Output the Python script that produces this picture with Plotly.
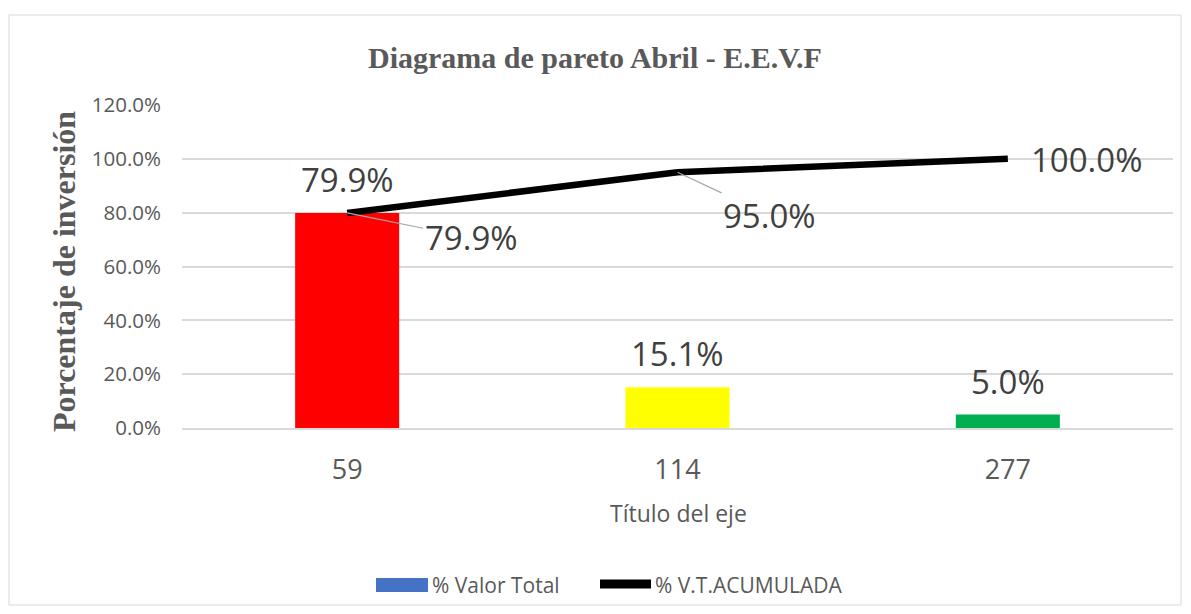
import plotly.graph_objects as go

categories = ["59", "114", "277"]
pct_total = [0.799, 0.151, 0.050]
pct_cum = [0.799, 0.950, 1.000]
bar_colors = ["#FF0000", "#FFFF00", "#00B050"]
y_ticks = [0, 0.2, 0.4, 0.6, 0.8, 1.0, 1.2]

OFF = 8  # page body margin
W, H = 1191 - OFF, 614 - OFF
# plot area in page pixels: x 182..1173, y 105..428
PL, PR, PT, PB = 182, 1173, 105, 428
L, T = PL - OFF, PT - OFF
R = W - (PR - OFF)
B = H - (PB - OFF)
PW, PH = PR - PL, PB - PT


def px(x):
    return (x - PL) / PW


def py(y):
    return (PB - y) / PH


FONT = "Open Sans"
GRAY = "#595959"
DARK = "#404040"

idx = list(range(len(categories)))

fig = go.Figure()
fig.add_trace(go.Bar(
    x=idx, y=pct_total, marker=dict(color=bar_colors, line=dict(width=0)),
    width=0.315, showlegend=False, hoverinfo="skip"))
fig.add_trace(go.Scatter(
    x=idx, y=pct_cum, mode="lines", line=dict(color="black", width=6.5),
    showlegend=False, hoverinfo="skip"))

ann = []
for i, v in zip(idx, pct_total):
    ann.append(dict(x=i, y=v, xref="x", yref="y", text=f"{v*100:.1f}%",
                    showarrow=False, yanchor="bottom", yshift=9,
                    font=dict(family=FONT, size=33, color=DARK)))
offsets = [(124, 25, True), (92, 43, True), (79, 1, False)]
for i, v, (ax, ay, arr) in zip(idx, pct_cum, offsets):
    if arr:
        ann.append(dict(x=i, y=v, xref="x", yref="y", text=f"{v*100:.1f}%",
                        showarrow=True, ax=ax, ay=ay, arrowhead=0, arrowwidth=1.2,
                        arrowcolor="#A6A6A6", standoff=0,
                        font=dict(family=FONT, size=33, color=DARK)))
    else:
        ann.append(dict(x=i, y=v, xref="x", yref="y", text=f"{v*100:.1f}%",
                        showarrow=False, xshift=ax, yshift=-ay,
                        font=dict(family=FONT, size=33, color=DARK)))

ann.append(dict(x=px(595), y=py(57), xref="paper", yref="paper",
                text="<b>Diagrama de pareto Abril - E.E.V.F</b>", showarrow=False,
                xanchor="center", yanchor="middle",
                font=dict(family="Liberation Serif", size=30, color=GRAY)))
ann.append(dict(x=px(64), y=py(272), xref="paper", yref="paper",
                text="<b>Porcentaje de inversión</b>", showarrow=False, textangle=-90,
                xanchor="center", yanchor="middle",
                font=dict(family="Liberation Serif", size=32, color=GRAY)))
ann.append(dict(x=px(678), y=py(513), xref="paper", yref="paper",
                text="Título del eje", showarrow=False, xanchor="center", yanchor="middle",
                font=dict(family=FONT, size=23, color=GRAY)))
ann.append(dict(x=px(430), y=py(585), xref="paper", yref="paper",
                text="% Valor Total", showarrow=False, xanchor="left", yanchor="middle",
                font=dict(family=FONT, size=21, color=GRAY)))
ann.append(dict(x=px(653), y=py(585), xref="paper", yref="paper",
                text="% V.T.ACUMULADA", showarrow=False, xanchor="left", yanchor="middle",
                font=dict(family=FONT, size=21, color=GRAY)))

shapes = [
    dict(type="rect", xref="paper", yref="paper", x0=px(9), x1=px(1181), y0=py(605), y1=py(15),
         line=dict(color="#D9D9D9", width=1), fillcolor="rgba(0,0,0,0)", layer="below"),
    dict(type="rect", xref="paper", yref="paper", x0=px(376), x1=px(428), y0=py(592), y1=py(578),
         line=dict(width=0), fillcolor="#4472C4"),
    dict(type="line", xref="paper", yref="paper", x0=px(600), x1=px(651), y0=py(584), y1=py(584),
         line=dict(color="black", width=9)),
]

fig.update_layout(
    width=W, height=H, margin=dict(l=L, r=R, t=T, b=B, autoexpand=False),
    paper_bgcolor="white", plot_bgcolor="white",
    annotations=ann, shapes=shapes, showlegend=False,
    xaxis=dict(range=[-0.5, 2.5], tickvals=idx, ticktext=categories,
               showgrid=False, showline=True, linecolor="#D9D9D9", zeroline=False,
               linewidth=1.5, ticks="", ticklabelstandoff=17,
               tickfont=dict(family=FONT, size=27, color=GRAY), fixedrange=True),
    yaxis=dict(range=[0, 1.2], tickvals=y_ticks, tickformat=".1%", showgrid=True,
               gridcolor="#D9D9D9", gridwidth=1.5, zeroline=False, showline=False,
               ticklabelstandoff=20, tickfont=dict(family=FONT, size=20.5, color=GRAY),
               fixedrange=True),
)

fig.write_html("out.html")
